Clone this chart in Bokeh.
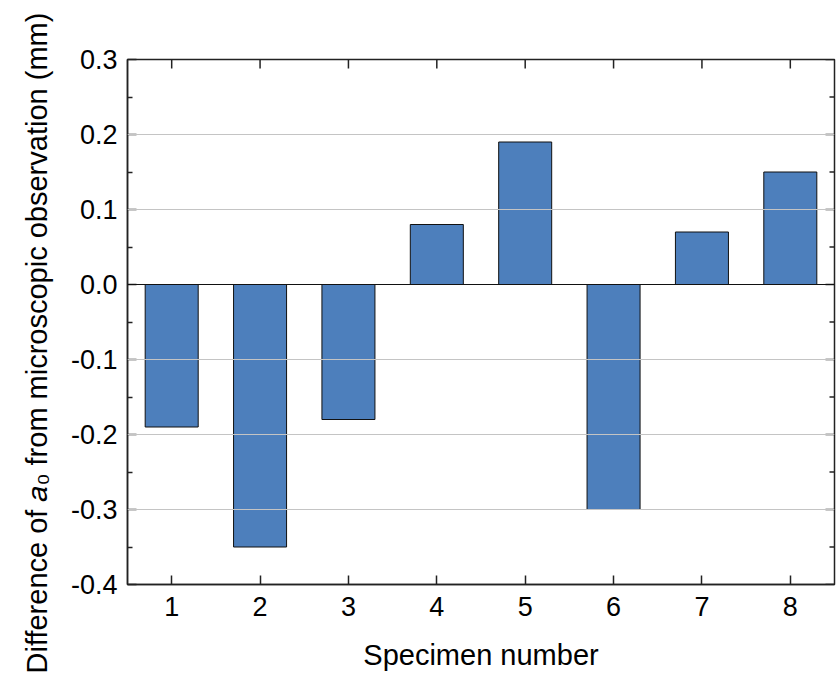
import math
from bokeh.plotting import figure
from bokeh.models import LinearAxis, FixedTicker, NumeralTickFormatter, Range1d, Span, Title
from bokeh.embed import file_html
from bokeh.resources import INLINE

specimens = [1, 2, 3, 4, 5, 6, 7, 8]
differences = [-0.19, -0.35, -0.18, 0.08, 0.19, -0.30, 0.07, 0.15]
y_ticks = [-0.4, -0.3, -0.2, -0.1, 0.0, 0.1, 0.2, 0.3]
y_minor = [-0.35, -0.25, -0.15, -0.05, 0.05, 0.15, 0.25]
x_label = "Specimen number"
y_label = "Difference of 𝑎₀ from microscopic observation (mm)"

FONT = "Liberation Sans"
AX = "#222222"
X0, X1, Y0, Y1 = 0.5, 8.5, -0.4, 0.3

p = figure(width=838, height=677, output_backend="svg", toolbar_location=None,
           x_range=Range1d(X0, X1), y_range=Range1d(Y0, Y1),
           x_axis_location=None, y_axis_location=None)
p.min_border_left = 127
p.min_border_right = 4
p.min_border_top = 59
p.min_border_bottom = 93
p.background_fill_color = "white"
p.border_fill_color = "white"
p.outline_line_color = AX
p.outline_line_width = 1.5

p.xgrid.visible = False
p.ygrid.visible = False

# Grid lines
for t in y_ticks[1:-1]:
    if t != 0.0:
        p.add_layout(Span(location=t, dimension="width", line_color="#c4c4c4", line_width=1))

p.vbar(x=specimens, top=differences, bottom=0, width=0.6,
       fill_color="#4d7fbc", line_color="#111111", line_width=1)

p.add_layout(Span(location=0.0, dimension="width", line_color="#111111", line_width=1.2))

# inward ticks on top and right frame edges
p.ray(x=specimens, y=[Y1] * len(specimens), length=9, angle=-math.pi / 2,
      length_units="screen", line_color=AX, line_width=1.5)
p.ray(x=[X1] * len(y_ticks), y=y_ticks, length=9, angle=math.pi,
      length_units="screen", line_color=AX, line_width=1.5)
p.ray(x=[X1] * len(y_minor), y=y_minor, length=5, angle=math.pi,
      length_units="screen", line_color=AX, line_width=1.5)

def style(ax):
    ax.axis_line_color = AX
    ax.axis_line_width = 1.5
    ax.major_tick_in = 9
    ax.major_tick_out = 0
    ax.minor_tick_in = 5
    ax.minor_tick_out = 0
    ax.major_tick_line_color = AX
    ax.minor_tick_line_color = AX
    ax.major_tick_line_width = 1.5
    ax.minor_tick_line_width = 1.5
    ax.major_label_text_font = FONT
    ax.major_label_text_font_size = "27px"
    ax.major_label_text_color = "black"
    ax.axis_label_text_font = FONT
    ax.axis_label_text_font_size = "29px"
    ax.axis_label_text_font_style = "normal"
    ax.axis_label_text_color = "black"

xticker = FixedTicker(ticks=specimens, minor_ticks=[])
yticker = FixedTicker(ticks=y_ticks, minor_ticks=y_minor)

xb = LinearAxis(ticker=xticker, axis_label=x_label)
style(xb)
xb.major_label_standoff = 12
xb.axis_label_standoff = 20
p.add_layout(xb, "below")

yl = LinearAxis(ticker=yticker, formatter=NumeralTickFormatter(format="0.0"))
style(yl)
yl.major_label_standoff = 10
p.add_layout(yl, "left")

p.add_layout(Title(text=y_label, align="left", offset=-89, standoff=30,
                   text_font=FONT, text_font_size="29px", text_font_style="normal",
                   text_color="black"), "left")

open("out.html", "w").write(file_html(p, INLINE))
